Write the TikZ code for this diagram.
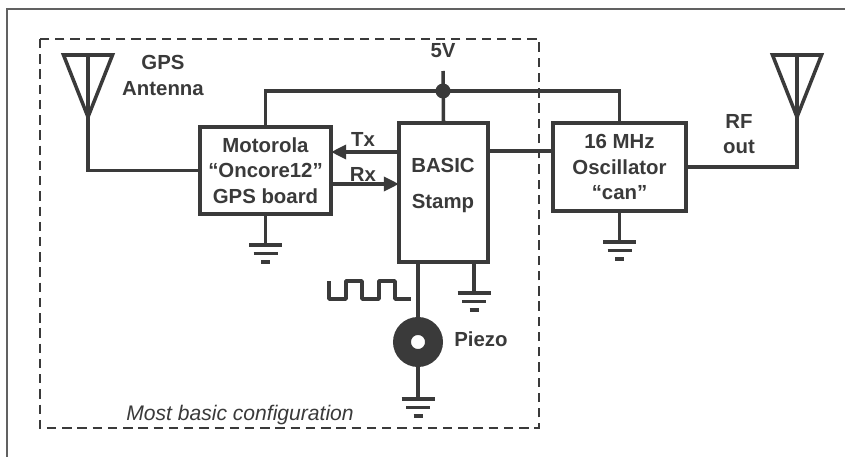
\documentclass[tikz,border=0pt]{standalone}
\usepackage{fontspec}
\setmainfont{Liberation Sans}
\usetikzlibrary{arrows.meta}
\definecolor{ink}{HTML}{3A3A3A}
\tikzset{
  wire/.style={draw=ink, line width=3pt},
  dash wire/.style={draw=ink, line width=2.4pt},
  block/.style={draw=ink, line width=2.6pt, inner sep=0pt, align=center, text=ink, font=\bfseries\fontsize{17.4}{22}\selectfont},
  lab/.style={inner sep=0pt, align=center, text=ink, font=\bfseries\fontsize{17.4}{22}\selectfont},
  sig/.style={wire, -{Triangle[length=13pt, width=12pt]}}
}
\begin{document}
\begin{tikzpicture}[x=.03cm, y=-.03cm]
\useasboundingbox (0,0) rectangle (845,457);

\draw [draw=ink!80, line width=2pt] (845,9) -- (7,9) -- (7,457);
\draw [dash wire, dash pattern=on 8pt off 5pt] (40,39) rectangle (539,428);

\node [block, minimum width=131*.03cm, minimum height=87*.03cm] (gps) at (265.5,170.5) {Motorola\\``Oncore12''\\GPS board};
\node [block, minimum width=89*.03cm, minimum height=139*.03cm] (stamp) at (443.5,192.5) {};
\node [block, minimum width=133*.03cm, minimum height=88*.03cm] (osc) at (619.5,167) {16 MHz\\Oscillator\\``can''};

\node [lab] (stampA) at (443,165) {BASIC};
\node [lab] (stampB) at (443,203) {Stamp};
\node [lab] (gpsant) at (163,75.5) {GPS\\Antenna};
\node [lab] (five) at (443,51) {5V};
\node [lab] (tx) at (363,139) {Tx};
\node [lab] (rx) at (363,174) {Rx};
\node [lab] (rf) at (739,134) {RF\\out};
\node [lab] (piezoT) at (481,339) {Piezo};
\node [inner sep=0pt, text=ink, font=\itshape\fontsize{18}{22}\selectfont] (basic) at (240,415) {Most basic configuration};

\node [circle, draw=ink, line width=15.3pt, minimum size=32*.03cm, inner sep=0pt, fill=white] (piezo) at (418,342) {};

% antennas
\coordinate (antL) at (88,117);
\coordinate (antR) at (797,117);
\foreach \a in {antL,antR} {
  \draw [wire, line join=miter] ([shift={(-24.5,-62)}]\a) -- ([shift={(24.5,-62)}]\a) -- (\a) -- cycle;
  \draw [wire] ([shift={(0,-62)}]\a) -- (\a);
}
\draw [wire] (antL) |- (gps.west);
\draw [wire] (antR) |- (osc.east);

% supply
\coordinate (vtop) at (443,71);
\coordinate (vdot) at (443,91);
\draw [wire] (vtop) -- (stamp.north);
\draw [wire] (gps.north) |- (vdot) -| (osc.north);
\node [circle, fill=ink, inner sep=0pt, minimum size=15*.03cm] (dot) at (vdot) {};

% signals
\coordinate (txS) at (399,152);
\coordinate (txG) at (331,152);
\coordinate (rxG) at (331,184);
\coordinate (rxS) at (399,184);
\coordinate (clkS) at (488,151);
\coordinate (clkO) at (553,151);
\draw [sig] (txS) -- (txG);
\draw [sig] (rxG) -- (rxS);
\draw [wire] (clkS) -- (clkO);

% grounds
\coordinate (gndG) at (265.5,245);
\coordinate (gndO) at (619.5,242);
\coordinate (gndS) at (474,293);
\coordinate (gndP) at (418,399);
\coordinate (stampP) at (418,262);
\coordinate (stampG) at (474,262);
\draw [wire] (gps.south) -- (gndG);
\draw [wire] (osc.south) -- (gndO);
\draw [wire] (stampG) -- (gndS);
\draw [wire] (stampP) -- (piezo.north);
\draw [wire] (piezo.south) -- (gndP);
\foreach \g in {gndG,gndO,gndS,gndP} {
  \draw [wire] ([xshift=-16.5*.03cm]\g) -- ([xshift=16.5*.03cm]\g);
  \draw [wire] ([shift={(-12,8.5)}]\g) -- ([shift={(12,8.5)}]\g);
  \draw [wire] ([shift={(-4.5,17)}]\g) -- ([shift={(4.5,17)}]\g);
}

% square wave
\draw [wire, line join=round] (329,281) -- (329,299) -- (346,299) -- (346,281) -- (362,281) -- (362,299) -- (379,299) -- (379,281) -- (395,281) -- (395,299) -- (411,299);

\end{tikzpicture}
\end{document}
